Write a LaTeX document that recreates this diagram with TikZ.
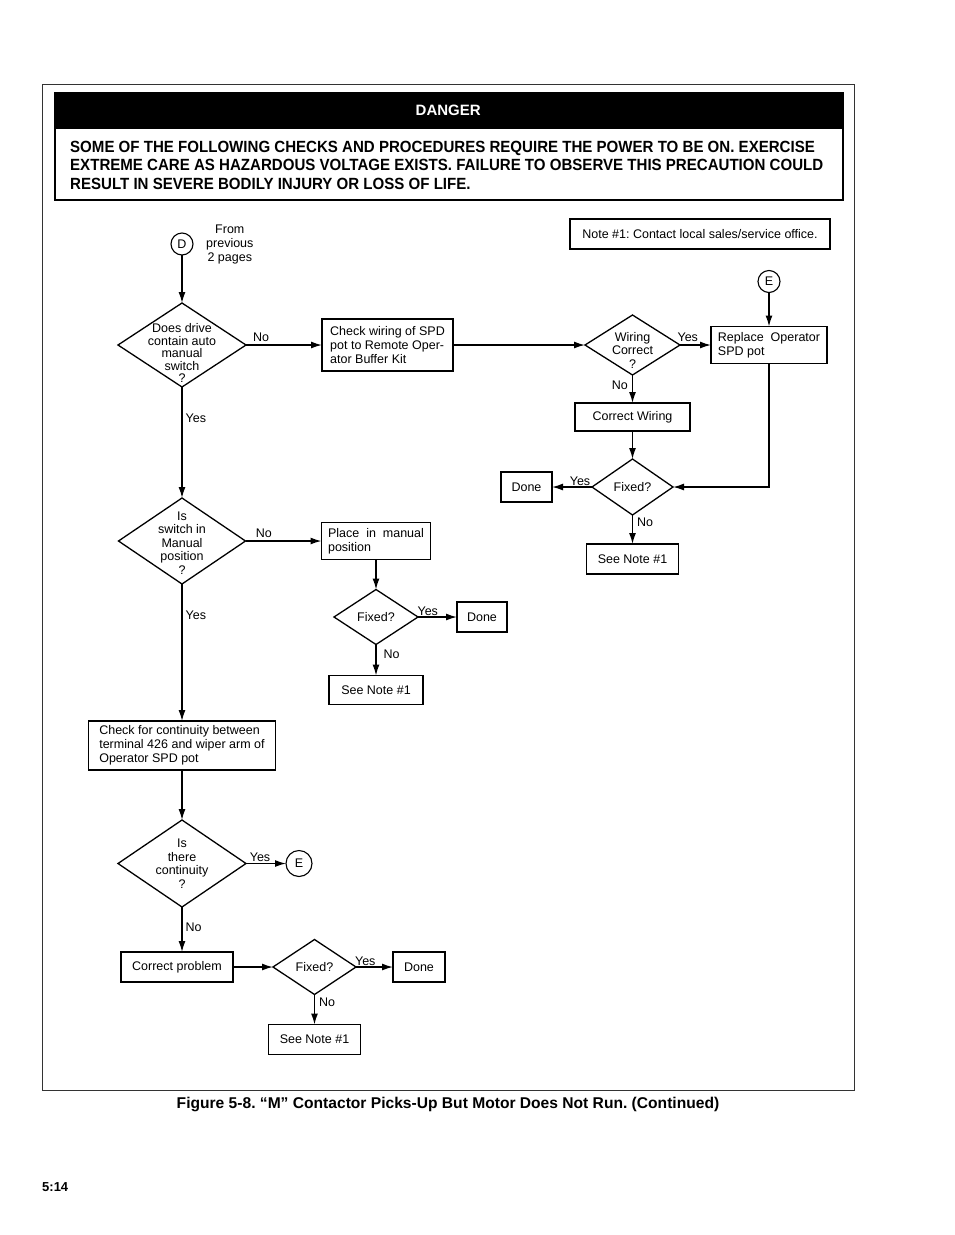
\documentclass[tikz,border=0pt]{standalone}
\usepackage{fontspec}
\setmainfont{Liberation Sans}
\newfontfamily\narrowfont[FakeStretch=0.93]{Liberation Sans}
\usetikzlibrary{shapes.geometric, arrows.meta, positioning}
\tikzset{fc-line/.style={line width=1.4pt}}
\tikzset{>={Latex[length=11pt,width=7pt]}}
\tikzset{fc-box/.style={draw, line width=1.3pt, inner sep=0pt, outer sep=0pt, align=left, font=\fontsize{12.5}{14}\selectfont}}
\tikzset{fc-decision/.style={draw, diamond, line width=1.3pt, inner sep=0pt, outer sep=0pt}}
\tikzset{fc-dtext/.style={inner sep=0pt, align=center, font=\fontsize{12.5}{13.5}\selectfont}}
\tikzset{fc-conn/.style={draw, circle, line width=1.1pt, inner sep=0pt, outer sep=0pt, minimum size=22pt, font=\fontsize{12.5}{14}\selectfont}}
\tikzset{fc-label/.style={inner sep=1pt, font=\fontsize{12.5}{14}\selectfont}}
\tikzset{fc-text/.style={inner sep=0pt, align=center, font=\fontsize{12.5}{14}\selectfont}}
\frenchspacing

\begin{document}
\begin{tikzpicture}[x=1pt, y=-1pt]
            \useasboundingbox (0,0) rectangle (954,1235);

            \draw[line width=0.8pt, black!80] (42,84) rectangle (854,1090);
            \node[draw, line width=1.6pt, inner sep=0pt, minimum width=788, minimum height=107, anchor=north west] (dbox) at (54,92) {};
            \node[fill=black, text=white, inner sep=0pt, text depth=0pt, minimum width=788, minimum height=37, anchor=north west, font=\bfseries\fontsize{15}{18}\selectfont] (dhead) at (54,92) {DANGER};
            \node[anchor=west, align=left, inner sep=0pt, font=\narrowfont\bfseries\fontsize{16.2}{18.5}\selectfont] (dtext) at (70,165) {SOME OF THE FOLLOWING CHECKS AND PROCEDURES REQUIRE THE POWER TO BE ON. EXERCISE\\EXTREME CARE AS HAZARDOUS VOLTAGE EXISTS. FAILURE TO OBSERVE THIS PRECAUTION COULD\\RESULT IN SEVERE BODILY INJURY OR LOSS OF LIFE.};

            \node[fc-box, minimum width=260, minimum height=30] (note) at (700,234) {Note \#1: Contact local sales/service office.};

            \node[fc-conn] (conD) at (182,244) {D};
            \node[fc-text, right=13pt of conD] (from) {From\\previous\\2 pages};

            \node[fc-decision, minimum width=128, minimum height=84, below=48pt of conD] (dec1) {};
            \node[fc-dtext, yshift=-8pt, font=\fontsize{12.5}{12.5}\selectfont] (dec1t) at (dec1) {Does drive\\contain auto\\manual\\switch\\?};
            \node[fc-box, minimum width=131, minimum height=52, right=76pt of dec1] (wirechk) {Check wiring of SPD\\pot to Remote Oper-\\ator Buffer Kit};
            \node[fc-decision, minimum width=95, minimum height=60, right=132pt of wirechk] (dec2) {};
            \node[fc-dtext, yshift=-5pt] (dec2t) at (dec2) {Wiring\\Correct\\?};
            \node[fc-box, minimum width=116, minimum height=37, right=31pt of dec2] (replace) {Replace\ \ Operator\\SPD pot};
            \node[fc-conn, above=34pt of replace] (conE1) {E};
            \node[fc-box, minimum width=115, minimum height=28, below=28pt of dec2] (fixwire) {Correct Wiring};
            \node[fc-decision, minimum width=81, minimum height=56, below=28pt of fixwire] (dec3) {};
            \node[fc-dtext] (dec3t) at (dec3) {Fixed?};
            \node[fc-box, minimum width=51, minimum height=30, left=40pt of dec3] (done1) {Done};
            \node[fc-box, minimum width=92, minimum height=30, below=29pt of dec3] (note1) {See Note \#1};

            \node[fc-decision, minimum width=127, minimum height=86, below=111pt of dec1] (dec4) {};
            \node[fc-dtext, yshift=-2pt] (dec4t) at (dec4) {Is\\switch in\\Manual\\position\\?};
            \node[fc-box, minimum width=109, minimum height=37, right=76pt of dec4] (manual) {Place\ \ in\ \ manual\\position};
            \node[fc-decision, minimum width=84, minimum height=55, below=30pt of manual] (dec5) {};
            \node[fc-dtext] (dec5t) at (dec5) {Fixed?};
            \node[fc-box, minimum width=50, minimum height=30, right=39pt of dec5] (done2) {Done};
            \node[fc-box, minimum width=94, minimum height=29, below=31pt of dec5] (note2) {See Note \#1};

            \node[fc-box, minimum width=187, minimum height=49, below=137pt of dec4] (contchk) {Check for continuity between\\terminal 426 and wiper arm of\\Operator SPD pot};
            \node[fc-decision, minimum width=128, minimum height=87, below=50pt of contchk] (dec6) {};
            \node[fc-dtext] (dec6t) at (dec6) {Is\\there\\continuity\\?};
            \node[fc-conn, minimum size=26pt, right=40pt of dec6] (conE2) {E};
            \node[fc-box, minimum width=112, minimum height=30, below=45pt of dec6, xshift=-5pt] (fixprob) {Correct problem};
            \node[fc-decision, minimum width=83, minimum height=55, right=40pt of fixprob] (dec7) {};
            \node[fc-dtext] (dec7t) at (dec7) {Fixed?};
            \node[fc-box, minimum width=52, minimum height=30, right=37pt of dec7] (done3) {Done};
            \node[fc-box, minimum width=92, minimum height=30, below=30pt of dec7] (note3) {See Note \#1};

            \draw[->, fc-line] (conD) -- (dec1);
            \draw[->, fc-line] (dec1) -- node[fc-label, above, pos=.2, yshift=2pt] (no1) {No} (wirechk);
            \draw[->, fc-line] (wirechk) -- (dec2);
            \draw[->, fc-line] (dec2) -- node[fc-label, above, pos=.25, yshift=2pt] (yes2) {Yes} (replace);
            \draw[->, fc-line] (conE1) -- (replace);
            \draw[->, fc-line] (dec2) -- node[fc-label, left, pos=.35, xshift=-3pt] (no2) {No} (fixwire);
            \draw[->, fc-line] (fixwire) -- (dec3);
            \draw[->, fc-line] (replace.south) |- (dec3.east);
            \draw[->, fc-line] (dec3) -- node[fc-label, above, pos=.3] (yes3) {Yes} (done1);
            \draw[->, fc-line] (dec3) -- node[fc-label, right, pos=.25, xshift=3pt] (no3) {No} (note1);

            \draw[->, fc-line] (dec1) -- node[fc-label, right, pos=.28, xshift=2pt] (yes1) {Yes} (dec4);
            \draw[->, fc-line] (dec4) -- node[fc-label, above, pos=.24, yshift=2pt] (no4) {No} (manual);
            \draw[->, fc-line] (manual) -- (dec5);
            \draw[->, fc-line] (dec5) -- node[fc-label, above, pos=.25] (yes5) {Yes} (done2);
            \draw[->, fc-line] (dec5) -- node[fc-label, right, pos=.3, xshift=6pt] (no5) {No} (note2);

            \draw[->, fc-line] (dec4) -- node[fc-label, right, pos=.23, xshift=2pt] (yes4) {Yes} (contchk);
            \draw[->, fc-line] (contchk) -- (dec6);
            \draw[->, fc-line] (dec6) -- node[fc-label, above, pos=.35] (yes6) {Yes} (conE2);
            \draw[->, fc-line] (dec6.south) -- node[fc-label, right, pos=.45, xshift=2pt] (no6) {No} (dec6.south |- fixprob.north);
            \draw[->, fc-line] (fixprob) -- (dec7);
            \draw[->, fc-line] (dec7) -- node[fc-label, above, pos=.25] (yes7) {Yes} (done3);
            \draw[->, fc-line] (dec7) -- node[fc-label, right, pos=.25, xshift=3pt] (no7) {No} (note3);

            \node[inner sep=0pt, font=\bfseries\fontsize{15.6}{18}\selectfont] (caption) at (448,1104) {Figure 5-8. “M” Contactor Picks-Up But Motor Does Not Run. (Continued)};
            \node[anchor=west, inner sep=0pt, font=\bfseries\fontsize{13}{15}\selectfont] (pagenum) at (42,1187) {5:14};
        \end{tikzpicture}
\end{document}
